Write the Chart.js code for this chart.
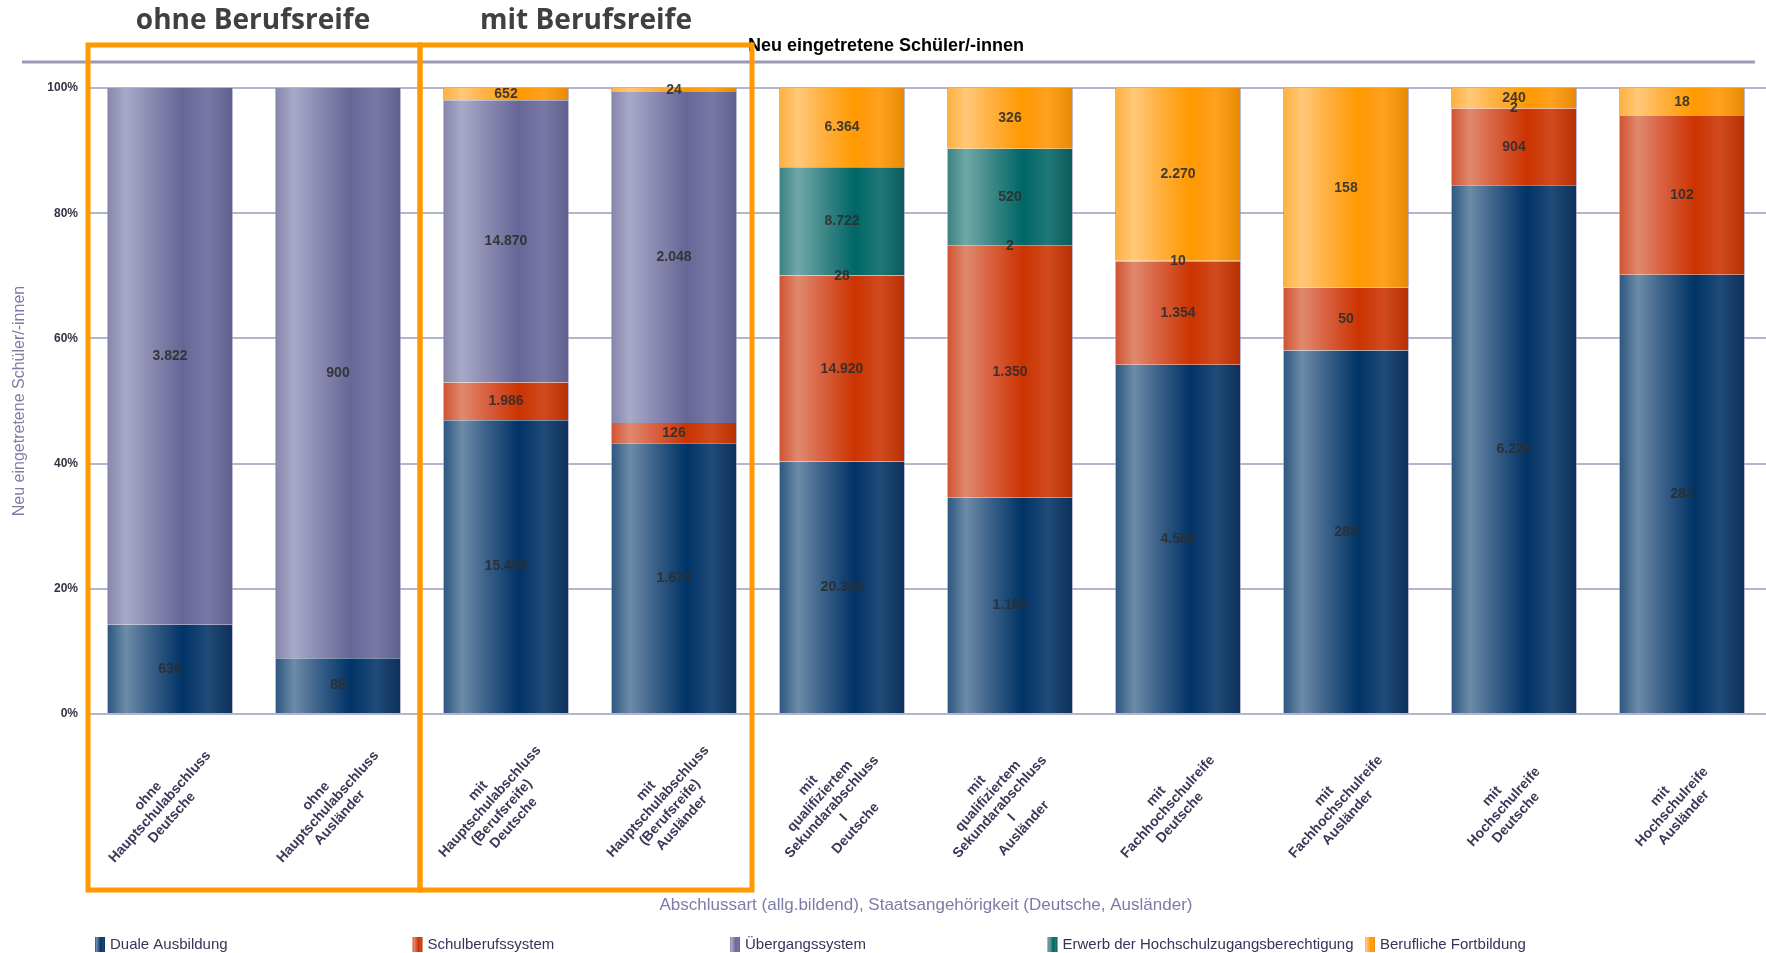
<!DOCTYPE html>
<html lang="de">
<head>
<meta charset="utf-8">
<title>Neu eingetretene Schüler/-innen</title>
<script src="https://cdn.jsdelivr.net/npm/chart.js@4.4.1/dist/chart.umd.min.js"></script>
<style>
  html, body { margin: 0; padding: 0; background: #fff; }
  #wrap { position: relative; width: 1766px; height: 953px; }
</style>
</head>
<body>
<div id="wrap"><canvas id="chart"></canvas></div>
<script>
// x categories, one entry per bar (drawn as multi-line labels)
const categories = [
  ["ohne", "Hauptschulabschluss", "Deutsche"],
  ["ohne", "Hauptschulabschluss", "Ausländer"],
  ["mit", "Hauptschulabschluss", "(Berufsreife)", "Deutsche"],
  ["mit", "Hauptschulabschluss", "(Berufsreife)", "Ausländer"],
  ["mit", "qualifiziertem", "Sekundarabschluss", "I", "Deutsche"],
  ["mit", "qualifiziertem", "Sekundarabschluss", "I", "Ausländer"],
  ["mit", "Fachhochschulreife", "Deutsche"],
  ["mit", "Fachhochschulreife", "Ausländer"],
  ["mit", "Hochschulreife", "Deutsche"],
  ["mit", "Hochschulreife", "Ausländer"]
];

// series (absolute numbers of new students)
const seriesNames = [
  "Duale Ausbildung",
  "Schulberufssystem",
  "Übergangssystem",
  "Erwerb der Hochschulzugangsberechtigung",
  "Berufliche Fortbildung"
];
const dualeAusbildung   = [636, 88, 15490, 1674, 20308, 1160, 4586, 288, 6226, 282];
const schulberufssystem = [0, 0, 1986, 126, 14920, 1350, 1354, 50, 904, 102];
const uebergangssystem  = [3822, 900, 14870, 2048, 28, 2, 10, 0, 2, 0];
const erwerbHZB         = [0, 0, 0, 0, 8722, 520, 0, 0, 0, 0];
const fortbildung       = [0, 0, 652, 24, 6364, 326, 2270, 158, 240, 18];

const yTicks = [0, 20, 40, 60, 80, 100];

// gradient stops per series (light stripe left, dark core right)
const seriesStops = [
  ["#2a5480", "#6e8ca8", "#3a6088", "#003366", "#1f4a78", "#0d3058"],
  ["#d05030", "#e08a6e", "#d86040", "#cc3300", "#d04a20", "#b83000"],
  ["#8585ab", "#a8a8c8", "#8a8ab0", "#666698", "#7878a6", "#606090"],
  ["#3a8080", "#70a8a8", "#408888", "#006666", "#207878", "#0a5a5a"],
  ["#ffb040", "#ffc878", "#ffb040", "#ff9900", "#ffa020", "#e88a00"]
];
const stopPos = [0, 0.15, 0.35, 0.6, 0.8, 1];

const rawSeries = [dualeAusbildung, schulberufssystem, uebergangssystem, erwerbHZB, fortbildung];
const totals = categories.map((c, i) => rawSeries.reduce((s, arr) => s + arr[i], 0));

const BAR_PCT = 0.75;

function barGradient(ctx2d, x, w, stops) {
  const g = ctx2d.createLinearGradient(x - w / 2, 0, x + w / 2, 0);
  stops.forEach((c, k) => g.addColorStop(stopPos[k], c));
  return g;
}

function fmt(v) {
  return String(v).replace(/\B(?=(\d{3})+(?!\d))/g, ".");
}

const datasets = rawSeries.map((arr, s) => ({
  label: seriesNames[s],
  data: arr.map((v, i) => v / totals[i] * 100),
  backgroundColor: ctx => {
    const chart = ctx.chart;
    if (ctx.type !== "data" || !chart.chartArea) return seriesStops[s][3];
    const x = chart.scales.x.getPixelForValue(ctx.dataIndex);
    const w = (chart.chartArea.right - chart.chartArea.left) / categories.length * BAR_PCT;
    return barGradient(chart.ctx, x, w, seriesStops[s]);
  },
  borderColor: "rgba(140,140,180,0.6)",
  borderWidth: { left: 1, right: 1, top: 0, bottom: 0 },
  borderSkipped: false
}));

// labels, title, annotations, legend and boxes
const overlay = {
  id: "overlay",
  afterDatasetsDraw(chart) {
    const ctx = chart.ctx;
    ctx.save();
    ctx.font = "bold 14px 'Liberation Sans', Arial, sans-serif";
    ctx.fillStyle = "rgba(45,45,45,0.9)";
    ctx.textAlign = "center";
    ctx.textBaseline = "middle";
    rawSeries.forEach((arr, s) => {
      chart.getDatasetMeta(s).data.forEach((bar, i) => {
        if (!arr[i]) return;
        ctx.fillText(fmt(arr[i]), bar.x, (bar.y + bar.base) / 2);
      });
    });
    ctx.restore();
  },
  afterDraw(chart) {
    const ctx = chart.ctx;
    const xs = chart.scales.x;
    ctx.save();

    // chart title + rule
    ctx.font = "bold 18px 'Liberation Sans', Arial, sans-serif";
    ctx.fillStyle = "#000";
    ctx.textAlign = "center";
    ctx.textBaseline = "middle";
    ctx.fillText("Neu eingetretene Schüler/-innen", 886, 46);
    ctx.strokeStyle = "#9a9ab8";
    ctx.lineWidth = 3;
    ctx.beginPath();
    ctx.moveTo(22, 62);
    ctx.lineTo(1755, 62);
    ctx.stroke();

    // rotated category labels
    ctx.font = "bold 14px 'Liberation Sans', Arial, sans-serif";
    ctx.fillStyle = "#3a3a58";
    const lh = 16;
    categories.forEach((lines, i) => {
      const cx = xs.getPixelForValue(i) - 10;
      ctx.save();
      ctx.translate(cx, 807);
      ctx.rotate(-48 * Math.PI / 180);
      lines.forEach((t, k) => ctx.fillText(t, 0, (k - (lines.length - 1) / 2) * lh));
      ctx.restore();
    });

    // legend
    ctx.font = "15px 'Liberation Sans', Arial, sans-serif";
    ctx.textAlign = "left";
    seriesNames.forEach((name, s) => {
      const lx = 95 + s * 317.5;
      ctx.fillStyle = barGradient(ctx, lx + 5, 10, seriesStops[s]);
      ctx.fillRect(lx, 937, 10, 15);
      ctx.fillStyle = "#35355a";
      ctx.fillText(name, lx + 15, 945);
    });

    // highlight boxes
    ctx.strokeStyle = "#ff9900";
    ctx.lineWidth = 5;
    ctx.strokeRect(88, 45, 332, 845);
    ctx.strokeRect(420, 45, 332, 845);

    ctx.font = "bold 28px 'Open Sans', 'Noto Sans', sans-serif";
    ctx.fillStyle = "#404040";
    ctx.textAlign = "center";
    ctx.fillText("ohne Berufsreife", 253, 21);
    ctx.fillText("mit Berufsreife", 586, 21);

    ctx.restore();
  }
};

new Chart(document.getElementById("chart"), {
  type: "bar",
  data: { labels: categories, datasets },
  options: {
    responsive: true,
    maintainAspectRatio: false,
    animation: false,
    layout: { padding: { top: 88, left: 8, right: 0, bottom: 0 } },
    datasets: { bar: { categoryPercentage: 1, barPercentage: BAR_PCT } },
    plugins: { legend: { display: false }, tooltip: { enabled: false } },
    scales: {
      x: {
        stacked: true,
        grid: { display: false },
        border: { display: false },
        ticks: { display: false },
        title: {
          display: true,
          text: "Abschlussart (allg.bildend), Staatsangehörigkeit (Deutsche, Ausländer)",
          color: "#7c7ca6",
          font: { family: "'Liberation Sans', Arial, sans-serif", size: 17 },
          padding: { top: 4, bottom: 37 }
        },
        afterFit: s => { s.height = 239; }
      },
      y: {
        stacked: true,
        min: 0,
        max: 100,
        afterBuildTicks: s => { s.ticks = yTicks.map(v => ({ value: v })); },
        border: { display: false },
        grid: { color: "#b4b4cc", lineWidth: 2, drawTicks: false },
        ticks: {
          padding: 8,
          color: "#333344",
          font: { family: "'Liberation Sans', Arial, sans-serif", size: 12, weight: "bold" },
          callback: v => v + "%"
        },
        title: {
          display: true,
          text: "Neu eingetretene Schüler/-innen",
          color: "#7c7ca6",
          font: { family: "'Liberation Sans', Arial, sans-serif", size: 16 },
          padding: { top: 2, bottom: 4 }
        },
        afterFit: s => { s.width = 78; }
      }
    }
  },
  plugins: [overlay]
});
</script>
</body>
</html>
